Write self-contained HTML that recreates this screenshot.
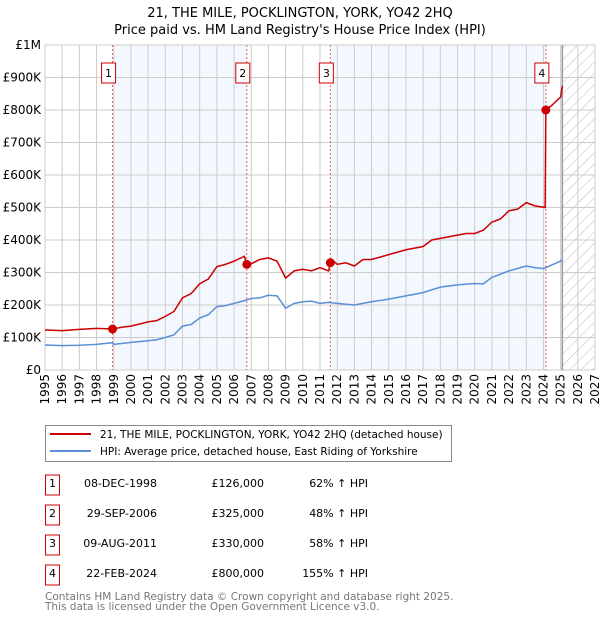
<!DOCTYPE html>
<html><head><meta charset="utf-8"><style>
body{margin:0;background:#fff;font-family:"DejaVu Sans","Liberation Sans",sans-serif;}
svg text{font-family:"DejaVu Sans","Liberation Sans",sans-serif;}
</style></head><body>
<svg id="c" width="600" height="620" xmlns="http://www.w3.org/2000/svg"></svg>
<script>
const hpiYears=[1995,1996,1997,1998,1998.9,1999,2000,2001,2001.5,2002,2002.5,2003,2003.5,2004,2004.5,2005,2005.5,2006,2006.5,2007,2007.5,2008,2008.5,2009,2009.5,2010,2010.5,2011,2011.5,2012,2013,2014,2015,2016,2017,2018,2019,2020,2020.5,2021,2022,2023,2023.5,2024,2025,2025.1];
const hpiValues=[77000,75000,76000,79000,84000,79000,85000,90000,93000,100000,108000,135000,140000,160000,170000,195000,198000,205000,212000,220000,222000,230000,228000,190000,205000,210000,212000,205000,208000,205000,200000,210000,218000,228000,238000,255000,262000,266000,265000,285000,305000,320000,315000,312000,335000,340000];
const redYears=[1995,1996,1997,1998,1998.93,1999.5,2000,2001,2001.5,2002,2002.5,2003,2003.5,2004,2004.5,2005,2005.5,2006,2006.6,2006.74,2007,2007.5,2008,2008.5,2009,2009.5,2010,2010.5,2011,2011.5,2011.6,2011.7,2012,2012.5,2013,2013.5,2014,2015,2016,2017,2017.5,2018,2019,2019.5,2020,2020.5,2021,2021.5,2022,2022.5,2023,2023.5,2024.1,2024.14,2024.5,2025,2025.1];
const redValues=[123000,121000,125000,128000,126000,132000,135000,148000,152000,165000,180000,222000,235000,265000,280000,318000,325000,335000,350000,325000,327000,340000,345000,335000,283000,305000,310000,305000,315000,305000,330000,340000,325000,330000,320000,340000,340000,355000,370000,380000,400000,405000,415000,420000,420000,430000,455000,465000,490000,495000,515000,505000,500000,800000,815000,840000,875000];
const saleYears=[1998.93,2006.74,2011.6,2024.14];
const salePrices=[126000,325000,330000,800000];
const saleLabels=["1","2","3","4"];
const saleDates=["08-DEC-1998","29-SEP-2006","09-AUG-2011","22-FEB-2024"];
const salePriceText=["£126,000","£325,000","£330,000","£800,000"];
const saleHpiText=["62% ↑ HPI","48% ↑ HPI","58% ↑ HPI","155% ↑ HPI"];
const yTicks=[0,100000,200000,300000,400000,500000,600000,700000,800000,900000,1000000];
const yTickLabels=["£0","£100K","£200K","£300K","£400K","£500K","£600K","£700K","£800K","£900K","£1M"];
const xTicks=[1995,1996,1997,1998,1999,2000,2001,2002,2003,2004,2005,2006,2007,2008,2009,2010,2011,2012,2013,2014,2015,2016,2017,2018,2019,2020,2021,2022,2023,2024,2025,2026,2027];

const X0=45,X1=595,Y0=370,Y1=45,dataEnd=2025.1;
const xs=y=>X0+(y-1995)/(2027-1995)*(X1-X0);
const ys=v=>Y0-v/1e6*(Y0-Y1);
const svg=document.getElementById('c');
const NS='http://www.w3.org/2000/svg';
function mk(tag,at,parent){const e=document.createElementNS(NS,tag);for(const k in at)e.setAttribute(k,at[k]);(parent||svg).appendChild(e);return e;}

let t=mk('text',{x:300,y:17,'text-anchor':'middle','font-size':13,fill:'#000'});t.textContent='21, THE MILE, POCKLINGTON, YORK, YO42 2HQ';

t=mk('text',{x:300,y:34,'text-anchor':'middle','font-size':13,fill:'#000'});t.textContent="Price paid vs. HM Land Registry's House Price Index (HPI)";


const defs=mk('defs',{});
const pat=mk('pattern',{id:'hatch',width:8,height:8,patternUnits:'userSpaceOnUse',patternTransform:'rotate(45)'},defs);
mk('line',{x1:0,y1:0,x2:0,y2:8,stroke:'#bbb','stroke-width':1},pat);

[[0,1],[2,3]].forEach(p=>{const r=mk('rect',{x:xs(saleYears[p[0]]),y:Y1,width:xs(saleYears[p[1]])-xs(saleYears[p[0]]),height:Y0-Y1,fill:'#eef3fd',opacity:0.7});
});
let h=mk('rect',{x:xs(dataEnd),y:Y1,width:X1-xs(dataEnd),height:Y0-Y1,fill:'url(#hatch)'});


yTicks.forEach((v,i)=>{mk('line',{x1:X0,x2:X1,y1:ys(v),y2:ys(v),stroke:'#ccc','stroke-width':1});
 const l=mk('text',{x:X0-4,y:ys(v)+4,'text-anchor':'end','font-size':12,fill:'#000'});l.textContent=yTickLabels[i];
 });
xTicks.forEach(y=>{mk('line',{x1:xs(y),x2:xs(y),y1:Y1,y2:Y0,stroke:'#ccc','stroke-width':1});
 const l=mk('text',{x:0,y:0,'text-anchor':'end','font-size':12,fill:'#000',transform:`translate(${xs(y)+4},${Y0+4}) rotate(-90)`});l.textContent=y;
 });
mk('rect',{x:X0,y:Y1,width:X1-X0,height:Y0-Y1,fill:'none',stroke:'#ccc'});
mk('line',{x1:xs(dataEnd),x2:xs(dataEnd),y1:Y1,y2:Y0,stroke:'#999','stroke-width':1.5});

saleYears.forEach(y=>{const l=mk('line',{x1:xs(y),x2:xs(y),y1:Y1,y2:Y0,stroke:'#e06060','stroke-width':1,'stroke-dasharray':'2,2'});
 });

let p=mk('polyline',{points:hpiYears.map((y,i)=>xs(y)+','+ys(hpiValues[i])).join(' '),fill:'none',stroke:'#5b8fd6','stroke-width':1.5});

p=mk('polyline',{points:redYears.map((y,i)=>xs(y)+','+ys(redValues[i])).join(' '),fill:'none',stroke:'#cc0000','stroke-width':1.5});


saleYears.forEach((y,i)=>{const c=mk('circle',{cx:xs(y),cy:ys(salePrices[i]),r:4.5,fill:'#cc0000'});
 
 const g=mk('g',{});
 mk('rect',{x:xs(y)-11,y:63,width:14,height:20,fill:'#fff',stroke:'#cc0000'},g);
 const tt=mk('text',{x:xs(y)-4,y:77,'text-anchor':'middle','font-size':11,fill:'#000'},g);tt.textContent=saleLabels[i];});

const lg=mk('g',{});
mk('rect',{x:45.5,y:425.5,width:406,height:36,fill:'#fff',stroke:'#888'},lg);
mk('line',{x1:50,x2:91,y1:434,y2:434,stroke:'#cc0000','stroke-width':2},lg);
t=mk('text',{x:100,y:438,'font-size':10.5,fill:'#000'},lg);t.textContent='21, THE MILE, POCKLINGTON, YORK, YO42 2HQ (detached house)';
mk('line',{x1:50,x2:91,y1:451,y2:451,stroke:'#5b8fd6','stroke-width':2},lg);
t=mk('text',{x:100,y:455,'font-size':10.5,fill:'#000'},lg);t.textContent='HPI: Average price, detached house, East Riding of Yorkshire';

saleLabels.forEach((s,i)=>{const cy=483+i*30;const g=mk('g',{});
 mk('rect',{x:45.5,y:cy-8,width:14,height:20,fill:'#fff',stroke:'#cc0000'},g);
 let a=mk('text',{x:52.5,y:cy+4,'text-anchor':'middle','font-size':11,fill:'#000'},g);a.textContent=s;
 a=mk('text',{x:157,y:cy+4,'text-anchor':'end','font-size':11,fill:'#000'},g);a.textContent=saleDates[i];
 a=mk('text',{x:264,y:cy+4,'text-anchor':'end','font-size':11,fill:'#000'},g);a.textContent=salePriceText[i];
 a=mk('text',{x:368,y:cy+4,'text-anchor':'end','font-size':11,fill:'#000'},g);a.textContent=saleHpiText[i];});
t=mk('text',{x:45,y:600,'font-size':10.5,fill:'#777'});t.textContent='Contains HM Land Registry data © Crown copyright and database right 2025.';

t=mk('text',{x:45,y:610,'font-size':10.5,fill:'#777'});t.textContent='This data is licensed under the Open Government Licence v3.0.';

</script>
</body></html>
